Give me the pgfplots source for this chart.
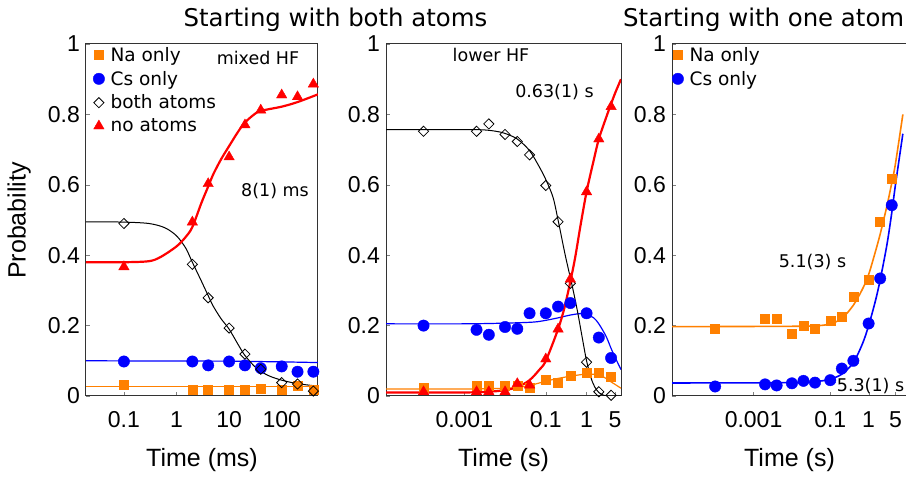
\documentclass[border=0pt]{standalone}
\usepackage{fontspec}
\setmainfont{Liberation Sans}
\newfontfamily\dejavu{DejaVu Sans}
\usepackage{pgfplots}
\pgfplotsset{compat=1.18}

\definecolor{naorange}{RGB}{255,128,0}
\definecolor{csblue}{RGB}{0,0,255}
\definecolor{fitred}{RGB}{255,0,0}

\newcommand{\ticksize}{\fontsize{23}{23}\selectfont}
\newcommand{\labsize}{\fontsize{25}{25}\selectfont}
\newcommand{\legsize}{\dejavu\fontsize{18.5}{18.5}\selectfont}

\begin{document}
\begin{tikzpicture}

% ---- panel 1: both atoms, mixed HF (ms)
\begin{axis}[xmode=log, scale only axis, height=352pt, width=232pt,
  anchor=south west, at={(86pt,83pt)},
  xmin=0.019, xmax=490, ymin=0, ymax=1,
  axis line style={line width=1pt, black!80},
  tick align=inside, major tick length=4pt, tick pos=left, xminorticks=false,
  xtick={0.1,1,10,100}, xticklabels={0.1,1,10,100},
  ytick={0,0.2,0.4,0.6,0.8,1}, yticklabels={0,0.2,0.4,0.6,0.8,1},
  yticklabel style={font=\ticksize, inner sep=0pt, xshift=-6pt},
  xticklabel style={font=\ticksize, inner sep=0pt, yshift=-15pt},
  xlabel={Time (ms)},
  xlabel style={font=\labsize, at={(axis description cs:0.5,0)}, anchor=base, yshift=-70.5pt},
  legend cell align=left,
  legend style={at={(0,1)}, anchor=north west, xshift=7pt, yshift=-1pt, draw=none, fill=none,
    inner sep=0pt, font=\legsize, row sep=4.3pt, column sep=4pt}]
\addplot[forget plot, naorange, line width=1.2pt] coordinates {(0.019,0.028)(490,0.028)};
\addplot[forget plot, csblue, line width=1.2pt] coordinates {(0.019,0.1)(10,0.099)(100,0.097)(490,0.095)};
\addplot[forget plot, black, line width=1pt, smooth] coordinates {
  (0.019,0.495)(0.1,0.494)(0.3,0.49)(0.6,0.478)(1,0.455)(1.5,0.42)(2,0.38)(3,0.325)(4,0.285)
  (5,0.255)(7,0.22)(10,0.19)(15,0.145)(20,0.115)(30,0.085)(40,0.07)(60,0.056)(100,0.045)(200,0.035)(490,0.028)};
\addplot[forget plot, fitred, line width=2.2pt, smooth] coordinates {
  (0.019,0.38)(0.1,0.38)(0.3,0.383)(0.5,0.395)(1,0.425)(1.5,0.452)(2,0.48)(3,0.55)(4,0.595)
  (5,0.63)(7,0.672)(10,0.71)(15,0.752)(20,0.777)(30,0.80)(40,0.81)(100,0.822)(200,0.835)(490,0.857)};
\addplot[only marks, mark=square*, mark size=4.5pt, naorange] coordinates {(0.1,0.031)(2,0.017)(4,0.017)(10,0.017)(20,0.017)(40,0.022)(100,0.017)(200,0.029)(400,0.017)};
\addlegendentry{Na only}
\addplot[only marks, mark=*, mark size=5.7pt, csblue] coordinates {(0.1,0.098)(2,0.098)(4,0.087)(10,0.098)(20,0.087)(40,0.079)(100,0.084)(200,0.069)(400,0.069)};
\addlegendentry{Cs only}
\addplot[only marks, mark=square, mark size=3.6pt, black, mark options={line width=0.8pt, rotate=45}] coordinates {(0.1,0.49)(2,0.374)(4,0.279)(10,0.193)(20,0.119)(40,0.076)(100,0.038)(200,0.034)(400,0.014)};
\addlegendentry{both atoms}
\addplot[only marks, mark=triangle*, mark size=6pt, fitred] coordinates {(0.1,0.367)(2,0.494)(4,0.603)(10,0.679)(20,0.77)(40,0.812)(100,0.855)(200,0.85)(400,0.886)};
\addlegendentry{no atoms}
\end{axis}

% ---- panel 2: both atoms, lower HF (s)
\begin{axis}[xmode=log, scale only axis, height=352pt, width=235pt,
  anchor=south west, at={(386pt,83pt)},
  xmin=1.2e-5, xmax=7, ymin=0, ymax=1,
  axis line style={line width=1pt, black!80},
  tick align=inside, major tick length=4pt, tick pos=left, xminorticks=false,
  xtick={0.001,0.1,1,5}, xticklabels={0.001,0.1,1,5},
  ytick={0,0.2,0.4,0.6,0.8,1}, yticklabels={0,0.2,0.4,0.6,0.8,1},
  yticklabel style={font=\ticksize, inner sep=0pt, xshift=-6pt},
  xticklabel style={font=\ticksize, inner sep=0pt, yshift=-15pt},
  xlabel={Time (s)},
  xlabel style={font=\labsize, at={(axis description cs:0.5,0)}, anchor=base, yshift=-70.5pt}]
\addplot[naorange, line width=1.2pt, smooth] coordinates {
  (1.2e-5,0.02)(0.001,0.02)(0.01,0.022)(0.03,0.027)(0.06,0.035)(0.1,0.042)(0.2,0.05)(0.5,0.058)
  (1,0.062)(2,0.06)(3,0.05)(4,0.04)(5,0.033)(7,0.022)};
\addplot[csblue, line width=1.2pt, smooth] coordinates {
  (1.2e-5,0.205)(0.001,0.205)(0.01,0.207)(0.05,0.21)(0.1,0.215)(0.2,0.222)(0.4,0.23)(0.7,0.234)
  (1,0.232)(1.5,0.222)(2,0.205)(3,0.17)(4,0.135)(5,0.11)(7,0.075)};
\addplot[black, line width=1pt, smooth] coordinates {
  (1.2e-5,0.757)(0.001,0.757)(0.003,0.756)(0.006,0.752)(0.01,0.746)(0.02,0.73)(0.04,0.697)
  (0.07,0.65)(0.1,0.615)(0.15,0.565)(0.2,0.5)(0.3,0.4)(0.45,0.31)(0.6,0.24)(0.8,0.16)(1,0.1)
  (1.3,0.05)(1.6,0.025)(2,0.01)(2.5,0.003)(3,0)(7,0)};
\addplot[fitred, line width=2.2pt, smooth] coordinates {
  (1.2e-5,0.01)(0.001,0.01)(0.005,0.013)(0.01,0.017)(0.02,0.025)(0.04,0.045)(0.07,0.075)
  (0.1,0.1)(0.2,0.19)(0.3,0.26)(0.5,0.38)(0.7,0.48)(1,0.58)(1.5,0.67)(2,0.73)(3,0.79)(4,0.83)
  (5,0.86)(7,0.9)};
\addplot[only marks, mark=square*, mark size=4.5pt, naorange] coordinates {(1e-4,0.023)(0.002,0.03)(0.004,0.03)(0.01,0.03)(0.02,0.03)(0.04,0.023)(0.1,0.047)(0.2,0.039)(0.4,0.059)(1,0.066)(2,0.066)(4,0.054)};
\addplot[only marks, mark=*, mark size=5.7pt, csblue] coordinates {(1e-4,0.2)(0.002,0.188)(0.004,0.174)(0.01,0.196)(0.02,0.191)(0.04,0.235)(0.1,0.235)(0.2,0.254)(0.4,0.264)(1,0.235)(2,0.166)(4,0.108)};
\addplot[only marks, mark=square, mark size=3.6pt, black, mark options={line width=0.8pt, rotate=45}] coordinates {(1e-4,0.752)(0.002,0.752)(0.004,0.773)(0.01,0.743)(0.02,0.723)(0.04,0.685)(0.1,0.598)(0.2,0.495)(0.4,0.32)(1,0.096)(2,0.012)(4,0.002)};
\addplot[only marks, mark=triangle*, mark size=6pt, fitred] coordinates {(1e-4,0.012)(0.002,0.012)(0.004,0.012)(0.01,0.012)(0.02,0.035)(0.04,0.031)(0.1,0.105)(0.2,0.19)(0.4,0.332)(1,0.58)(2,0.73)(4,0.822)};
\end{axis}

% ---- panel 3: one atom (s)
\begin{axis}[xmode=log, scale only axis, height=352pt, width=235pt,
  anchor=south west, at={(672pt,83pt)},
  xmin=7.5e-6, xmax=10, ymin=0, ymax=1,
  axis line style={line width=1pt, black!80},
  tick align=inside, major tick length=4pt, tick pos=left, xminorticks=false,
  xtick={0.001,0.1,1,5}, xticklabels={0.001,0.1,1,5},
  ytick={0,0.2,0.4,0.6,0.8,1}, yticklabels={0,0.2,0.4,0.6,0.8,1},
  yticklabel style={font=\ticksize, inner sep=0pt, xshift=-6pt},
  xticklabel style={font=\ticksize, inner sep=0pt, yshift=-15pt},
  xlabel={Time (s)},
  xlabel style={font=\labsize, at={(axis description cs:0.5,0)}, anchor=base, yshift=-70.5pt},
  legend cell align=left,
  legend style={at={(0,1)}, anchor=north west, xshift=0pt, yshift=-1pt, draw=none, fill=none,
    inner sep=0pt, font=\legsize, row sep=4.3pt, column sep=4pt}]
\addplot[forget plot, naorange, line width=1.6pt, smooth] coordinates {
  (7.5e-6,0.197)(0.01,0.198)(0.05,0.2)(0.1,0.205)(0.2,0.22)(0.4,0.258)(0.7,0.305)(1,0.345)
  (1.5,0.41)(2,0.46)(3,0.54)(4,0.605)(5,0.66)(7.8,0.8)};
\addplot[forget plot, csblue, line width=1.6pt, smooth] coordinates {
  (7.5e-6,0.037)(0.01,0.038)(0.05,0.042)(0.1,0.048)(0.2,0.062)(0.4,0.095)(0.7,0.15)(1,0.2)
  (1.5,0.27)(2,0.33)(3,0.43)(4,0.52)(5,0.6)(7.8,0.745)};
\addplot[only marks, mark=square*, mark size=4.5pt, naorange] coordinates {(1e-4,0.192)(0.002,0.22)(0.004,0.22)(0.01,0.178)(0.02,0.199)(0.04,0.19)(0.1,0.213)(0.2,0.226)(0.4,0.282)(1,0.33)(2,0.494)(4,0.616)};
\addlegendentry{Na only}
\addplot[only marks, mark=*, mark size=5.7pt, csblue] coordinates {(1e-4,0.027)(0.002,0.033)(0.004,0.03)(0.01,0.036)(0.02,0.043)(0.04,0.038)(0.1,0.045)(0.2,0.078)(0.4,0.1)(1,0.206)(2,0.334)(4,0.542)};
\addlegendentry{Cs only}
\end{axis}

% titles, axis label, annotations
\node[font=\dejavu\fontsize{24.4}{24.4}\selectfont, anchor=base] at (335.5pt,452.5pt) {Starting with both atoms};
\node[font=\dejavu\fontsize{24.4}{24.4}\selectfont, anchor=base west, inner sep=0pt] at (623pt,452.5pt) {Starting with one atom};
\node[font=\labsize, rotate=90, anchor=base] at (25.5pt,258.5pt) {Probability};
\node[font=\dejavu\fontsize{17.5}{17.5}\selectfont, inner sep=0pt] at (258pt,421pt) {mixed HF};
\node[font=\dejavu\fontsize{17.5}{17.5}\selectfont, inner sep=0pt] at (275pt,288.3pt) {8(1) ms};
\node[font=\dejavu\fontsize{17.5}{17.5}\selectfont, inner sep=0pt] at (491pt,424pt) {lower HF};
\node[font=\dejavu\fontsize{17.5}{17.5}\selectfont, inner sep=0pt] at (554.5pt,386.7pt) {0.63(1) s};
\node[font=\dejavu\fontsize{17.5}{17.5}\selectfont, inner sep=0pt] at (812.5pt,217.3pt) {5.1(3) s};
\node[font=\dejavu\fontsize{17.5}{17.5}\selectfont, inner sep=0pt, anchor=west] at (836.7pt,93pt) {5.3(1) s};

\pgfresetboundingbox
\path[use as bounding box] (0pt,0pt) rectangle (906pt,479pt);
\end{tikzpicture}
\end{document}
